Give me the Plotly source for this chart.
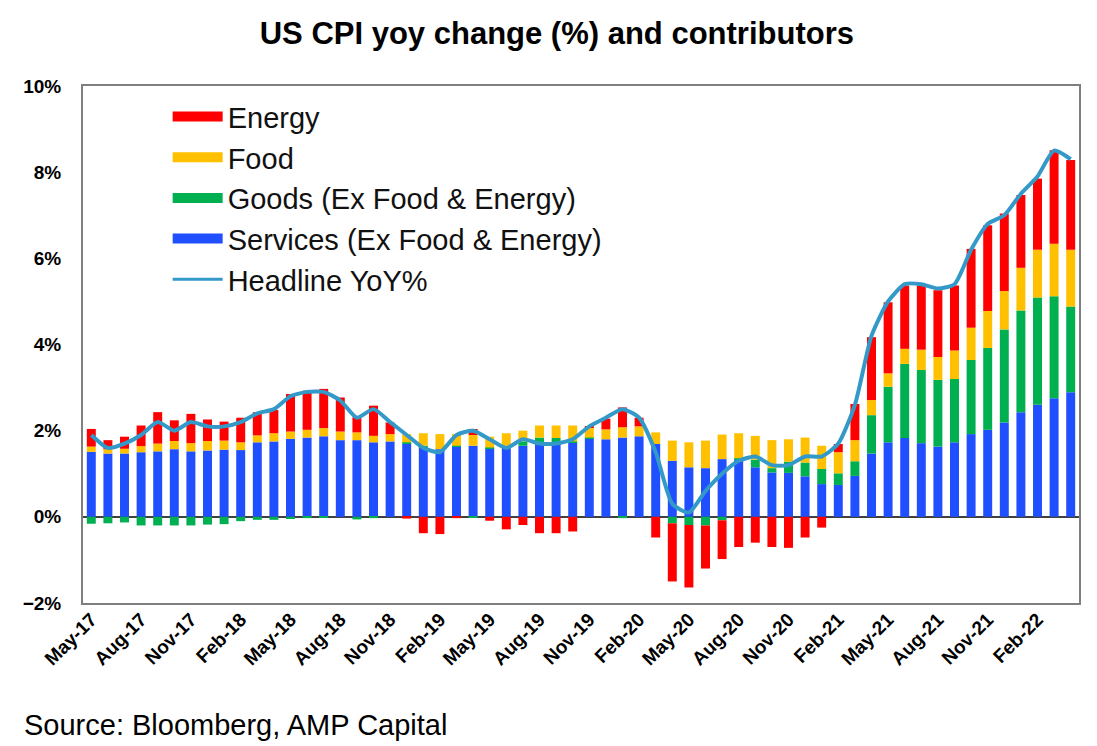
import plotly.graph_objects as go

# Monthly categories, May-17 .. Apr-22
months = [
    "May-17", "Jun-17", "Jul-17", "Aug-17", "Sep-17", "Oct-17", "Nov-17", "Dec-17",
    "Jan-18", "Feb-18", "Mar-18", "Apr-18", "May-18", "Jun-18", "Jul-18", "Aug-18",
    "Sep-18", "Oct-18", "Nov-18", "Dec-18", "Jan-19", "Feb-19", "Mar-19", "Apr-19",
    "May-19", "Jun-19", "Jul-19", "Aug-19", "Sep-19", "Oct-19", "Nov-19", "Dec-19",
    "Jan-20", "Feb-20", "Mar-20", "Apr-20", "May-20", "Jun-20", "Jul-20", "Aug-20",
    "Sep-20", "Oct-20", "Nov-20", "Dec-20", "Jan-21", "Feb-21", "Mar-21", "Apr-21",
    "May-21", "Jun-21", "Jul-21", "Aug-21", "Sep-21", "Oct-21", "Nov-21", "Dec-21",
    "Jan-22", "Feb-22", "Mar-22", "Apr-22",
]

# Contributions to yoy change (percentage points)
services = [
    1.51, 1.47, 1.47, 1.50, 1.52, 1.57, 1.52, 1.54, 1.56, 1.55, 1.73, 1.75,
    1.81, 1.84, 1.87, 1.78, 1.78, 1.73, 1.75, 1.71, 1.62, 1.57, 1.63, 1.65,
    1.59, 1.65, 1.65, 1.71, 1.70, 1.73, 1.82, 1.80, 1.84, 1.87, 1.69, 1.30,
    1.15, 1.13, 1.34, 1.34, 1.15, 1.03, 1.02, 0.94, 0.76, 0.74, 0.95, 1.47,
    1.73, 1.83, 1.71, 1.63, 1.73, 1.92, 2.02, 2.19, 2.43, 2.60, 2.75, 2.89,
]
goods = [
    -0.16, -0.15, -0.13, -0.20, -0.20, -0.20, -0.20, -0.18, -0.17, -0.10, -0.07, -0.07,
    -0.05, -0.03, -0.02, 0.00, -0.06, -0.03, 0.00, 0.02, 0.03, 0.00, 0.02, -0.02,
    0.02, 0.00, 0.10, 0.13, 0.13, 0.02, 0.02, 0.00, -0.03, 0.00, 0.00, -0.15,
    -0.19, -0.20, -0.08, 0.02, 0.18, 0.10, 0.26, 0.32, 0.35, 0.27, 0.34, 0.89,
    1.29, 1.72, 1.70, 1.55, 1.47, 1.72, 1.90, 2.16, 2.36, 2.49, 2.37, 1.99,
]
food = [
    0.12, 0.10, 0.11, 0.14, 0.18, 0.19, 0.19, 0.22, 0.21, 0.18, 0.16, 0.19,
    0.17, 0.18, 0.19, 0.20, 0.18, 0.15, 0.17, 0.19, 0.29, 0.35, 0.27, 0.25,
    0.25, 0.29, 0.25, 0.28, 0.29, 0.37, 0.24, 0.23, 0.24, 0.23, 0.27, 0.47,
    0.58, 0.64, 0.57, 0.58, 0.55, 0.65, 0.52, 0.58, 0.54, 0.49, 0.49, 0.35,
    0.31, 0.35, 0.47, 0.53, 0.66, 0.75, 0.86, 0.89, 0.99, 1.11, 1.22, 1.32,
]
energy = [
    0.41, 0.21, 0.28, 0.48, 0.73, 0.48, 0.68, 0.50, 0.44, 0.57, 0.54, 0.54,
    0.87, 0.91, 0.91, 0.79, 0.35, 0.70, 0.27, -0.04, -0.38, -0.40, -0.03, 0.14,
    -0.09, -0.29, -0.19, -0.38, -0.38, -0.34, 0.02, 0.25, 0.46, 0.20, -0.48, -1.35,
    -1.45, -1.00, -0.90, -0.70, -0.60, -0.70, -0.72, -0.48, -0.25, 0.19, 0.84, 1.46,
    1.65, 1.47, 1.49, 1.55, 1.51, 1.83, 1.99, 1.80, 1.69, 1.65, 2.17, 2.08,
]
headline = [
    1.9, 1.6, 1.7, 1.9, 2.2, 2.0, 2.2, 2.1, 2.1, 2.2, 2.4, 2.5,
    2.8, 2.9, 2.9, 2.7, 2.3, 2.5, 2.2, 1.9, 1.6, 1.5, 1.9, 2.0,
    1.8, 1.6, 1.8, 1.7, 1.7, 1.8, 2.1, 2.3, 2.5, 2.3, 1.5, 0.3,
    0.1, 0.6, 1.0, 1.3, 1.4, 1.2, 1.2, 1.4, 1.4, 1.7, 2.6, 4.2,
    5.0, 5.4, 5.4, 5.3, 5.4, 6.2, 6.8, 7.0, 7.5, 7.9, 8.5, 8.3,
]

tick_labels = months[::3]

colors = {
    "Energy": "#FF0000",
    "Food": "#FFC000",
    "Goods (Ex Food & Energy)": "#00B050",
    "Services (Ex Food & Energy)": "#1F4FFF",
    "Headline YoY%": "#3399C8",
}

fig = go.Figure()

# stacked bars, bottom to top: services, goods, food, energy
for name, vals in [
    ("Services (Ex Food & Energy)", services),
    ("Goods (Ex Food & Energy)", goods),
    ("Food", food),
    ("Energy", energy),
]:
    fig.add_trace(go.Bar(
        x=months, y=vals, name=name, marker_color=colors[name],
        marker_line_width=0, showlegend=False,
    ))

fig.add_trace(go.Scatter(
    x=months, y=headline, name="Headline YoY%", mode="lines",
    line=dict(color=colors["Headline YoY%"], width=4, shape="spline", smoothing=0.6),
    showlegend=False,
))

# legend entries drawn as wide swatches
for i, name in enumerate(["Energy", "Food", "Goods (Ex Food & Energy)",
                          "Services (Ex Food & Energy)", "Headline YoY%"]):
    fig.add_trace(go.Scatter(
        x=[None], y=[None], mode="lines", name=name,
        line=dict(color=colors[name], width=3 if name == "Headline YoY%" else 14),
        legendrank=i + 1,
    ))

fig.update_layout(
    width=1089, height=738,
    barmode="relative",
    bargap=0.46,
    plot_bgcolor="white",
    paper_bgcolor="white",
    font=dict(family="Liberation Sans, Arial, sans-serif", color="black"),
    title=dict(
        text="<b>US CPI yoy change (%) and contributors</b>",
        x=0.504, xanchor="center", y=0.966, yanchor="middle",
        font=dict(size=31, color="black"),
    ),
    legend=dict(
        x=0.085, y=0.99, xanchor="left", yanchor="top",
        font=dict(size=29, color="#111111"),
        itemwidth=50, tracegroupgap=0,
        bgcolor="rgba(0,0,0,0)",
    ),
    margin=dict(l=75, r=18, t=78, b=143),
    annotations=[dict(
        text="Source: Bloomberg, AMP Capital", xref="paper", yref="paper",
        x=-0.061, y=-0.236, xanchor="left", yanchor="middle", showarrow=False,
        font=dict(size=29, color="black"),
    )],
)

fig.update_xaxes(
    type="category", range=[-0.5, 59.5],
    tickmode="array", tickvals=tick_labels,
    ticktext=["<b>" + t + "</b>" for t in tick_labels],
    tickangle=-45, tickfont=dict(size=19, color="black"),
    ticklabelstandoff=-4,
    ticks="", showgrid=False,
    showline=True, mirror=True, linecolor="#7F7F7F", linewidth=2,
)
fig.update_yaxes(
    range=[-2, 10], dtick=2, tickprefix="<b>", ticksuffix="%</b>",
    tickfont=dict(size=19, color="black"), ticks="",
    ticklabelstandoff=16,
    showgrid=False, zeroline=True, zerolinecolor="#404040", zerolinewidth=2,
    showline=True, mirror=True, linecolor="#7F7F7F", linewidth=2,
)

fig.write_html("out.html")
